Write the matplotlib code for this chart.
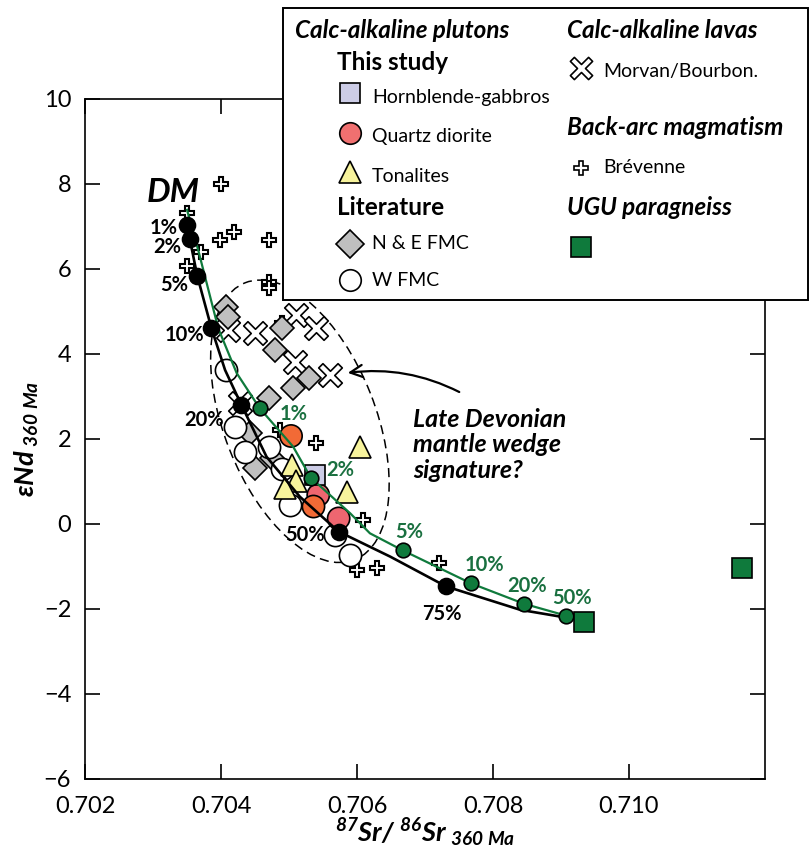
import matplotlib
matplotlib.use("Agg")
import matplotlib.pyplot as plt
from matplotlib.patches import Ellipse, Rectangle
from matplotlib.path import Path
import numpy as np

plt.rcParams['font.family'] = ['Lato', 'DejaVu Sans']
plt.rcParams['mathtext.fontset'] = 'custom'
plt.rcParams['mathtext.rm'] = 'Lato:bold:italic'
plt.rcParams['mathtext.it'] = 'Lato:bold:italic'
plt.rcParams['mathtext.bf'] = 'Lato:bold:italic'

# ---- samples ----
brev_x = [0.70400, 0.70350, 0.70399, 0.70419, 0.70470, 0.70370, 0.70350, 0.70470,
          0.70470, 0.70489, 0.70487, 0.70540, 0.70609, 0.70600, 0.70629, 0.70720]
brev_y = [8.00, 7.31, 6.68, 6.88, 6.68, 6.41, 6.07, 5.70,
          5.55, 4.72, 2.21, 1.90, 0.09, -1.08, -1.04, -0.91]

morvan_x = [0.70411, 0.70450, 0.70511, 0.70540, 0.70509, 0.70560, 0.70428]
morvan_y = [4.56, 4.49, 4.92, 4.60, 3.82, 3.51, 2.85]

ne_fmc_x = [0.70408, 0.70411, 0.70489, 0.70479, 0.70506, 0.70530, 0.70470,
            0.70443, 0.70450, 0.70475]
ne_fmc_y = [5.11, 4.88, 4.60, 4.09, 3.19, 3.43, 2.96, 2.13, 1.31, 1.55]

w_fmc_x = [0.70408, 0.70421, 0.70435, 0.70470, 0.70502, 0.70490, 0.70568, 0.70590]
w_fmc_y = [3.62, 2.29, 1.70, 1.82, 0.45, 1.30, -0.26, -0.73]

qd_x = [0.70503, 0.70543, 0.70536, 0.70573]
qd_y = [2.07, 0.68, 0.41, 0.13]
qd_colors = ['#f26a36', '#ee6670', '#f26a36', '#ee6670']

ton_x = [0.70604, 0.70505, 0.70511, 0.70494, 0.70585]
ton_y = [1.82, 1.39, 1.00, 0.84, 0.76]

hbg_x = [0.70538]
hbg_y = [1.15]

ugu_x = [0.70934, 0.71166]
ugu_y = [-2.31, -1.04]

# ---- mixing models ----
black_pct = ['1%', '2%', '5%', '10%', '20%', '50%', '75%']
black_x = [0.70350, 0.70354, 0.70365, 0.70386, 0.70430, 0.70573, 0.70731]
black_y = [7.04, 6.71, 5.84, 4.60, 2.80, -0.18, -1.47]
black_line_x = [0.70350, 0.70350, 0.70354, 0.70365, 0.70386, 0.70406, 0.70430,
                0.70467, 0.70516, 0.70573, 0.70649, 0.70731, 0.70840, 0.70925]
black_line_y = [7.19, 7.04, 6.71, 5.84, 4.60, 3.62, 2.80,
                1.58, 0.64, -0.18, -0.77, -1.47, -2.02, -2.25]

green_pct = ['1%', '2%', '5%', '10%', '20%', '50%']
green_x = [0.70457, 0.70532, 0.70667, 0.70768, 0.70846, 0.70908]
green_y = [2.72, 1.09, -0.62, -1.40, -1.88, -2.16]
green_line_x = [0.70350, 0.70367, 0.70396, 0.70423, 0.70457, 0.70506, 0.70532,
                0.70590, 0.70619, 0.70667, 0.70768, 0.70846, 0.70908, 0.70934]
green_line_y = [7.39, 6.41, 4.60, 3.55, 2.72, 1.82, 1.09,
                0.25, -0.22, -0.62, -1.40, -1.88, -2.16, -2.31]

# label anchor positions (data coords)
black_lab_x = [0.70315, 0.70321, 0.70331, 0.70346, 0.70375, 0.70524, 0.70725]
black_lab_y = [6.97, 6.52, 5.62, 4.45, 2.45, -0.26, -2.11]
green_lab_x = [0.70507, 0.70575, 0.70677, 0.70788, 0.70850, 0.70916]
green_lab_y = [2.59, 1.27, -0.18, -0.96, -1.46, -1.75]

GREEN = '#0f7a3c'
GREEN_TXT = '#1a7040'

# thin outlined x-cross marker
h = 0.11
plus = [(h, h), (h, 0.5), (-h, 0.5), (-h, h), (-0.5, h), (-0.5, -h), (-h, -h),
        (-h, -0.5), (h, -0.5), (h, -h), (0.5, -h), (0.5, h), (h, h)]
c, s = np.cos(np.pi / 4), np.sin(np.pi / 4)
xcross = Path([(c * px - s * py, s * px + c * py) for px, py in plus], closed=True)

fig = plt.figure(figsize=(8.09, 8.56), dpi=100)
ax = fig.add_axes([0.1051, 0.0900, 0.8405, 0.7944])

ek = dict(markeredgecolor='black', markeredgewidth=1.2, linestyle='none')
ax.plot(brev_x, brev_y, marker='P', ms=10.5, markerfacecolor='white', linestyle='none',
        markeredgecolor='black', markeredgewidth=1.5, zorder=2)
ax.plot(morvan_x, morvan_y, marker=xcross, ms=17, markerfacecolor='white', zorder=2, **ek)
ax.plot(ne_fmc_x, ne_fmc_y, marker='D', ms=12.5, markerfacecolor='#bfbfbf', zorder=3, **ek)
ax.plot(w_fmc_x, w_fmc_y, marker='o', ms=16, markerfacecolor='white', zorder=4, **ek)
ax.scatter(qd_x, qd_y, s=16 ** 2, c=qd_colors, edgecolors='black', linewidths=1.2, zorder=5)
ax.plot(ton_x, ton_y, marker='^', ms=16, markerfacecolor='#f7f39c', zorder=5, **ek)
ax.plot(hbg_x, hbg_y, marker='s', ms=14.5, markerfacecolor='#cccce6', zorder=5, **ek)

ax.plot(black_line_x, black_line_y, color='black', lw=1.9, zorder=6)
ax.plot(green_line_x, green_line_y, color=GREEN, lw=1.6, zorder=6)
ax.plot(black_x, black_y, marker='o', ms=11.5, markerfacecolor='black', zorder=7, **ek)
ax.plot(green_x, green_y, marker='o', ms=10.5, markerfacecolor=GREEN, zorder=7, **ek)
ax.plot(ugu_x, ugu_y, marker='s', ms=14.5, markerfacecolor=GREEN, zorder=7, **ek)

for t, x, y in zip(black_pct, black_lab_x, black_lab_y):
    ax.text(x, y, t, fontsize=14.5, fontweight='bold', ha='center', va='center', zorder=8)
for t, x, y in zip(green_pct, green_lab_x, green_lab_y):
    ax.text(x, y, t, fontsize=14.5, fontweight='bold', color=GREEN_TXT,
            ha='center', va='center', zorder=8)

ax.text(0.70330, 7.81, 'DM', fontsize=24, fontweight='bold', style='italic',
        ha='center', va='center')

# mantle wedge field
ax.add_patch(Ellipse((0.316, 0.526), 0.438, 0.223, angle=111.6, transform=ax.transAxes,
                     fill=False, ls=(0, (6, 3.5)), lw=1.1, color='black', zorder=1))
ax.annotate('', xy=(0.705824, 3.546), xytext=(0.707540, 3.075),
            arrowprops=dict(arrowstyle='->', lw=1.6, color='black',
                            mutation_scale=22, connectionstyle='arc3,rad=0.16'))
ax.text(0.706824, 1.86, 'Late Devonian\nmantle wedge\nsignature?', fontsize=18,
        fontweight='bold', style='italic', ha='left', va='center', linespacing=1.15)

ax.set_xlim(0.702, 0.712)
ax.set_ylim(-6, 10)
ax.set_xticks([0.702, 0.704, 0.706, 0.708, 0.710])
ax.set_xticklabels(['0.702', '0.704', '0.706', '0.708', '0.710'])
ax.set_yticks(range(-6, 11, 2))
ax.tick_params(direction='in', length=11, width=1.2, top=True, right=True, labelsize=17)
ax.tick_params(axis='x', pad=12)
ax.tick_params(axis='y', pad=10)
for sp in ax.spines.values():
    sp.set_linewidth(1.2)

ax.set_xlabel(r'$^{87}$Sr/ $^{86}$Sr$_{\ 360\ Ma}$', fontsize=19.5, fontweight='bold',
              style='italic', labelpad=0)
ax.set_ylabel(r'εNd$_{\ 360\ Ma}$', fontsize=19.5, fontweight='bold', style='italic',
              labelpad=2)

# ---- legend panel ----
lax = fig.add_axes([0, 0, 1, 1], zorder=10)
lax.set_xlim(0, 809)
lax.set_ylim(856, 0)
lax.axis('off')
lax.add_patch(Rectangle((283, 8), 525, 292, facecolor='white', edgecolor='black', lw=1.4))

heads = ['Calc-alkaline plutons', 'Calc-alkaline lavas', 'Back-arc magmatism', 'UGU paragneiss']
head_pos = [(295, 30), (567, 30), (567, 127), (567, 207)]
for t, (x, y) in zip(heads, head_pos):
    lax.text(x, y, t, fontsize=17.5, fontweight='bold', style='italic', ha='left', va='center')
for t, (x, y) in zip(['This study', 'Literature'], [(337, 62), (337, 207)]):
    lax.text(x, y, t, fontsize=17.5, fontweight='bold', ha='left', va='center')

entries = [('Hornblende-gabbros', dict(marker='s', ms=14.5, markerfacecolor='#cccce6'), 350, 93, 97),
           ('Quartz diorite', dict(marker='o', ms=15.5, markerfacecolor='#f07070'), 350, 133, 136),
           ('Tonalites', dict(marker='^', ms=16, markerfacecolor='#f7f39c'), 350, 172, 176),
           ('N & E FMC', dict(marker='D', ms=14, markerfacecolor='#bfbfbf'), 350, 244, 243),
           ('W FMC', dict(marker='o', ms=15.5, markerfacecolor='white'), 350, 280, 280),
           ('Morvan/Bourbon.', dict(marker=xcross, ms=16, markerfacecolor='white'), 581, 68, 71),
           ('Brévenne', dict(marker='P', ms=10.5, markerfacecolor='white'), 581, 168, 167),
           ('', dict(marker='s', ms=14.5, markerfacecolor=GREEN), 581, 247, 247)]
for label, mk, x, y, ty in entries:
    lax.plot([x], [y], **mk, **ek)
    if label:
        lax.text(x + 22, ty, label, fontsize=14, ha='left', va='center')

fig.savefig('out.png', dpi=100)
